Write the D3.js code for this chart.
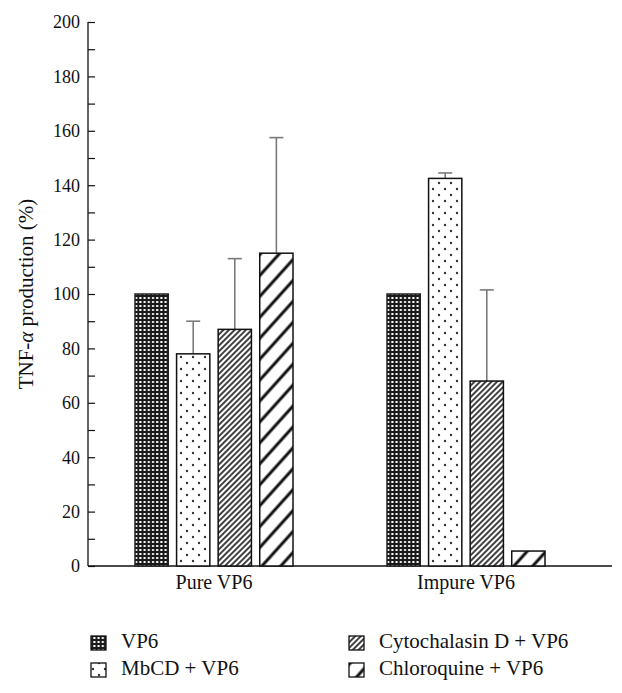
<!DOCTYPE html>
<html><head><meta charset="utf-8">
<script src="https://cdn.jsdelivr.net/npm/d3@7/dist/d3.min.js"></script>
<style>body{margin:0;background:#fff}svg{display:block}text{font-family:"Liberation Serif","DejaVu Serif",serif;fill:#111}</style>
</head><body><svg id="c" width="622" height="693"></svg>
<script>
const groups = ["Pure VP6", "Impure VP6"];
const series = ["VP6", "MbCD + VP6", "Cytochalasin D + VP6", "Chloroquine + VP6"];
const values = {
  "Pure VP6":   [100, 78, 87, 115],
  "Impure VP6": [100, 142.5, 68, 5.5]
};
const errUpper = {
  "Pure VP6":   [null, 90, 113, 157.5],
  "Impure VP6": [null, 144.5, 101.5, null]
};
const yTicks = [0, 20, 40, 60, 80, 100, 120, 140, 160, 180, 200];
const yMinorTicks = [10, 30, 50, 70, 90, 110, 130, 150, 170, 190];
const patternIds = ["pVP6", "pMbCD", "pCyto", "pChloro"];

const svg = d3.select("#c");
const defs = svg.append("defs");
let p = defs.append("pattern").attr("id","pVP6").attr("patternUnits","userSpaceOnUse").attr("width",4.2).attr("height",4);
p.append("rect").attr("width",4.2).attr("height",4).attr("fill","#1a1a1a");
p.append("rect").attr("x",1).attr("y",1).attr("width",2).attr("height",2).attr("fill","#fff");
p = defs.append("pattern").attr("id","pMbCD").attr("patternUnits","userSpaceOnUse").attr("width",12).attr("height",12);
p.append("rect").attr("width",12).attr("height",12).attr("fill","#fff");
p.append("circle").attr("cx",3).attr("cy",3).attr("r",1.2).attr("fill","#333");
p.append("circle").attr("cx",9).attr("cy",9).attr("r",1.2).attr("fill","#333");
p = defs.append("pattern").attr("id","pCyto").attr("patternUnits","userSpaceOnUse").attr("width",4).attr("height",4).attr("patternTransform","rotate(45)");
p.append("rect").attr("width",4).attr("height",4).attr("fill","#fff");
p.append("line").attr("x1",1).attr("x2",1).attr("y1",0).attr("y2",4).attr("stroke","#111").attr("stroke-width",1.6);
p = defs.append("pattern").attr("id","pChloro").attr("patternUnits","userSpaceOnUse").attr("width",14).attr("height",14).attr("patternTransform","rotate(42)");
p.append("rect").attr("width",14).attr("height",14).attr("fill","#fff");
p.append("line").attr("x1",4).attr("x2",4).attr("y1",0).attr("y2",14).attr("stroke","#111").attr("stroke-width",3);

const y = d3.scaleLinear().domain([0,200]).range([566,22]);
const x0 = d3.scaleBand().domain(groups).range([88,592]).padding(0);
const x1 = d3.scaleBand().domain(series).range([47,205]).paddingInner(0.2).paddingOuter(0);

const yAxis = svg.append("g").attr("transform","translate(88,0)");
yAxis.call(d3.axisRight(y).tickValues(yTicks).tickSize(7).tickFormat(""));
yAxis.call(g=>g.select(".domain").remove());
yAxis.selectAll(".tick line").attr("stroke","#111").attr("stroke-width",1.2);
const yMinor = svg.append("g").attr("transform","translate(88,0)");
yMinor.call(d3.axisRight(y).tickValues(yMinorTicks).tickSize(7).tickFormat(""));
yMinor.call(g=>g.select(".domain").remove());
yMinor.selectAll(".tick line").attr("stroke","#111").attr("stroke-width",1.2);
svg.append("g").selectAll("text").data(yTicks).join("text")
  .attr("x",80).attr("y",d=>y(d)).attr("dy","0.35em").attr("text-anchor","end")
  .attr("font-size",18).text(d=>d);
svg.append("line").attr("x1",88).attr("x2",88).attr("y1",y(200)).attr("y2",y(0)).attr("stroke","#111").attr("stroke-width",1.3);
svg.append("line").attr("x1",88).attr("x2",612).attr("y1",y(0)).attr("y2",y(0)).attr("stroke","#111").attr("stroke-width",1.3);

const yt = svg.append("text").attr("transform","translate(33,294) rotate(-90)").attr("text-anchor","middle").attr("font-size",21);
yt.append("tspan").text("TNF-");
yt.append("tspan").attr("font-style","italic").text("α");
yt.append("tspan").text(" production (%)");

groups.forEach(gname=>{
  const g = svg.append("g").attr("transform",`translate(${x0(gname)},0)`);
  series.forEach((s,i)=>{
    const v = values[gname][i];
    const e = errUpper[gname][i];
    const cx = x1(s)+x1.bandwidth()/2;
    if (e!=null){
      g.append("line").attr("x1",cx).attr("x2",cx).attr("y1",y(v)).attr("y2",y(e)).attr("stroke","#7a7a7a").attr("stroke-width",1.6);
      g.append("line").attr("x1",cx-7).attr("x2",cx+7).attr("y1",y(e)).attr("y2",y(e)).attr("stroke","#7a7a7a").attr("stroke-width",1.6);
    }
    g.append("rect").attr("x",x1(s)).attr("width",x1.bandwidth()).attr("y",y(v)).attr("height",y(0)-y(v))
      .attr("fill",`url(#${patternIds[i]})`).attr("stroke",i===0?"#222":"#111").attr("stroke-width",1.5);
  });
  svg.append("text").attr("x",x0(gname)+x0.bandwidth()/2).attr("y",589).attr("text-anchor","middle").attr("font-size",20).text(gname);
});

const legPos = [[91,636],[91,663],[349,636],[349,663]];
series.forEach((s,i)=>{
  const [lx,ly] = legPos[i];
  svg.append("rect").attr("x",lx).attr("y",ly).attr("width",15).attr("height",14)
    .attr("fill",`url(#${patternIds[i]})`).attr("stroke","#111").attr("stroke-width",1.3);
  svg.append("text").attr("x",lx+30).attr("y",ly+12).attr("font-size",21).text(s);
});
</script></body></html>
